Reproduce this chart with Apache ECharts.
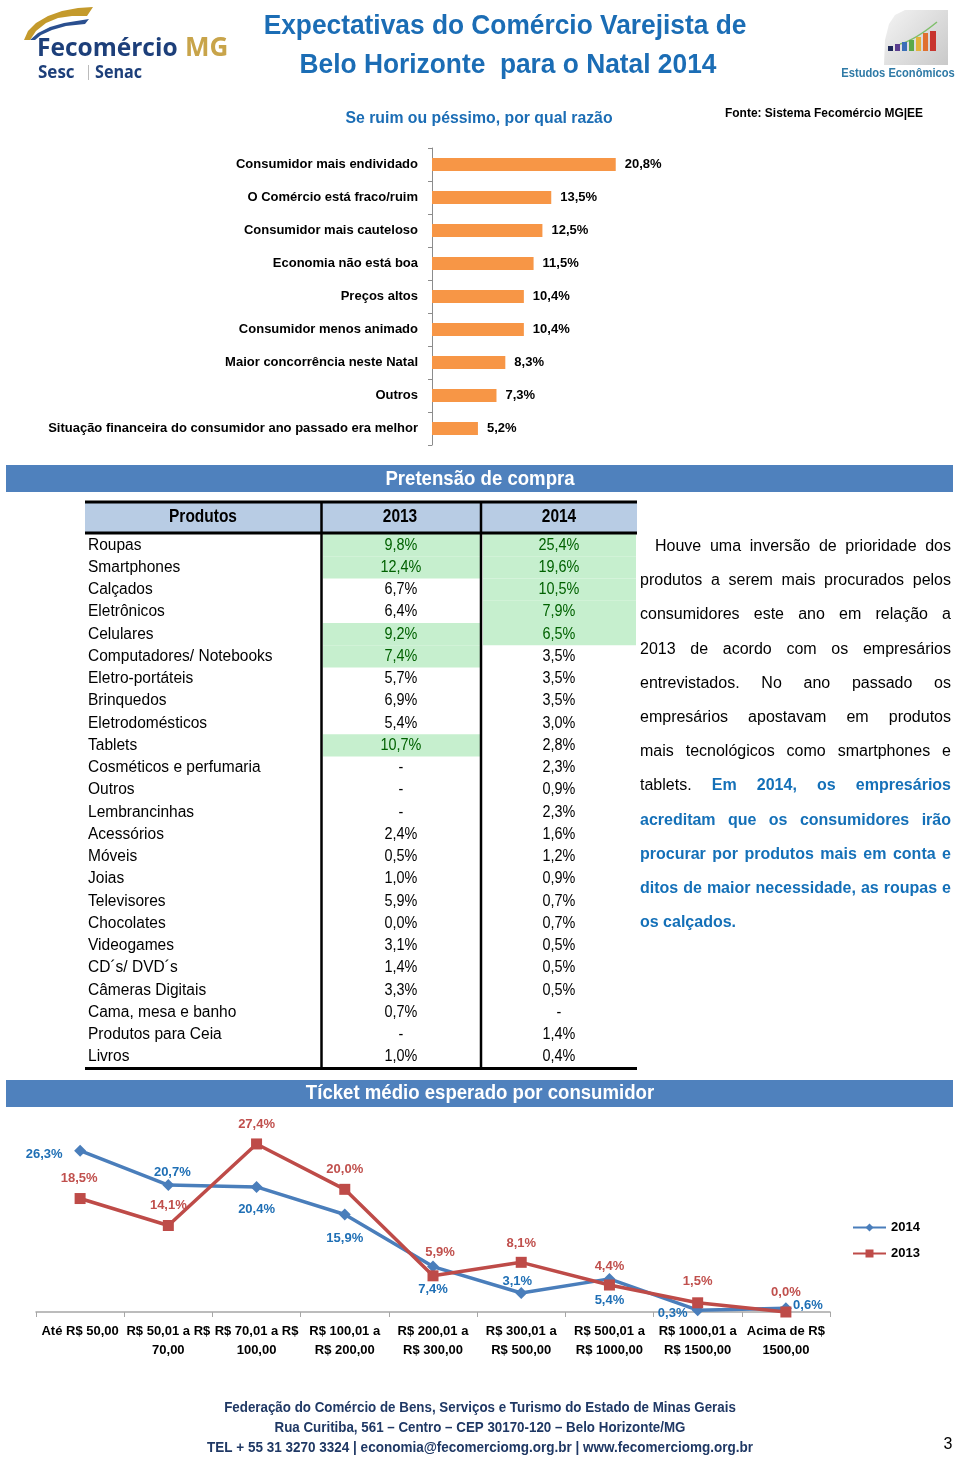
<!DOCTYPE html>
<html>
<head>
<meta charset="utf-8">
<script src="https://cdn.jsdelivr.net/npm/echarts@6/dist/echarts.min.js"></script>
<style>
  html,body{margin:0;padding:0;background:#fff;}
  #wrap{position:relative;width:960px;height:1457px;overflow:hidden;}
  #chart{position:absolute;left:0;top:0;width:960px;height:1457px;}
  #para{position:absolute;left:640px;top:529px;width:311px;font-family:'Liberation Sans',Arial,sans-serif;font-size:16px;color:#000;}
  #para div{height:34.2px;line-height:34px;text-align:justify;text-align-last:justify;white-space:nowrap;}
  #para .b{color:#1470b8;font-weight:bold;}
  #para .last{text-align-last:left;}
</style>
</head>
<body>
<div id="wrap">
<div id="chart"></div>
<div id="para">
  <div style="padding-left:15px">Houve uma inversão de prioridade dos</div>
  <div>produtos a serem mais procurados pelos</div>
  <div>consumidores este ano em relação a</div>
  <div>2013 de acordo com os empresários</div>
  <div>entrevistados. No ano passado os</div>
  <div>empresários apostavam em produtos</div>
  <div>mais tecnológicos como smartphones e</div>
  <div>tablets. <span class="b">Em 2014, os empresários</span></div>
  <div class="b">acreditam que os consumidores irão</div>
  <div class="b">procurar por produtos mais em conta e</div>
  <div class="b">ditos de maior necessidade, as roupas e</div>
  <div class="b last">os calçados.</div>
</div>
</div>
<script>
// ---------- DATA ----------
const reasons = ['Consumidor mais endividado','O Comércio está fraco/ruim','Consumidor mais cauteloso','Economia não está boa','Preços altos','Consumidor menos animado','Maior concorrência neste Natal','Outros','Situação financeira do consumidor ano passado era melhor'];
const reasonValues = [20.8, 13.5, 12.5, 11.5, 10.4, 10.4, 8.3, 7.3, 5.2];

const tableHeader = ['Produtos', '2013', '2014'];
const products = ['Roupas','Smartphones','Calçados','Eletrônicos','Celulares','Computadores/ Notebooks','Eletro-portáteis','Brinquedos','Eletrodomésticos','Tablets','Cosméticos e perfumaria','Outros','Lembrancinhas','Acessórios','Móveis','Joias','Televisores','Chocolates','Videogames','CD´s/ DVD´s','Câmeras Digitais','Cama, mesa e banho','Produtos para Ceia','Livros'];
const share2013 = [9.8, 12.4, 6.7, 6.4, 9.2, 7.4, 5.7, 6.9, 5.4, 10.7, null, null, null, 2.4, 0.5, 1.0, 5.9, 0.0, 3.1, 1.4, 3.3, 0.7, null, 1.0];
const share2014 = [25.4, 19.6, 10.5, 7.9, 6.5, 3.5, 3.5, 3.5, 3.0, 2.8, 2.3, 0.9, 2.3, 1.6, 1.2, 0.9, 0.7, 0.7, 0.5, 0.5, 0.5, null, 1.4, 0.4];

const ticketCats = ['Até R$ 50,00', 'R$ 50,01 a R$\n70,00', 'R$ 70,01 a R$\n100,00', 'R$ 100,01 a\nR$ 200,00', 'R$ 200,01 a\nR$ 300,00', 'R$ 300,01 a\nR$ 500,00', 'R$ 500,01 a\nR$ 1000,00', 'R$ 1000,01 a\nR$ 1500,00', 'Acima de R$\n1500,00'];
const ticket2014 = [26.3, 20.7, 20.4, 15.9, 7.4, 3.1, 5.4, 0.3, 0.6];
const ticket2013 = [18.5, 14.1, 27.4, 20.0, 5.9, 8.1, 4.4, 1.5, 0.0];

// ---------- LAYOUT / STYLE ----------
const FONT = "'Liberation Sans',Arial,sans-serif";
const LOGO_FONT = "'Open Sans','DejaVu Sans',sans-serif";
const BLUE_T = '#1b6db5';
const fmt = v => (v === null || v === undefined) ? '-' : v.toFixed(1).replace('.', ',') + '%';
const labelOff2014 = [[-36,4],[4,-13],[0,23],[0,24],[0,23],[-4,-12],[0,22],[-25,3],[22,-3]];
const labelOff2013 = [[-1,-20],[0,-20],[0,-20],[0,-20],[7,-23],[0,-19],[0,-19],[0,-21],[0,-20]];
const COL_EDGES = [0, 236, 396, 552];

function topIdx(arr, n){
  return arr.map((v,i)=>[v===null?-1:v,i]).sort((a,b)=>b[0]-a[0]).slice(0,n).map(d=>d[1]);
}
const hl2013 = topIdx(share2013, 5), hl2014 = topIdx(share2014, 5);
const tableData = [];
products.forEach((p, i) => {
  tableData.push([i, 0, 0]);
  tableData.push([i, 1, hl2013.includes(i) ? 1 : 0]);
  tableData.push([i, 2, hl2014.includes(i) ? 1 : 0]);
});
function cellText(row, col){
  if (col === 0) return products[row];
  return fmt(col === 1 ? share2013[row] : share2014[row]);
}

const chart = echarts.init(document.getElementById('chart'), null, {renderer:'canvas'});

const txt = (text, x, y, opt, sx) => ({type:'text', x:x, y:y, scaleX: sx || 1, z:50,
  style:Object.assign({text:text, fontFamily:FONT, fontSize:14, fontWeight:'bold', fill:'#000', align:'center', verticalAlign:'middle'}, opt||{})});
const line = (x1,y1,x2,y2,w) => ({type:'line', shape:{x1,y1,x2,y2}, style:{stroke:'#000', lineWidth:w}, z:100});
const poly = (pts, fill) => ({type:'polygon', shape:{points:pts}, style:{fill:fill}});

const graphics = [
  // left logo
  poly([[24,40],[28,31],[36,23],[48,16],[62,11],[78,8],[93,7],[87,16],[72,16],[58,18],[46,23],[36,31],[30,40]], '#c49a2c'),
  poly([[30,40],[38,33],[50,27],[64,23],[89,19],[85,24],[66,26],[52,30],[41,35],[35,40]], '#2a4f8f'),
  txt('Fecomércio', 37, 49, {fontFamily:LOGO_FONT, fontSize:25, fill:'#1d3f7a', align:'left'}, 0.98),
  txt('MG', 185, 49, {fontFamily:LOGO_FONT, fontSize:26, fill:'#c8a44a', align:'left'}),
  txt('Sesc', 38, 73, {fontFamily:LOGO_FONT, fontSize:17, fill:'#1d3f7a', align:'left'}),
  {type:'rect', shape:{x:88, y:65, width:1, height:15}, style:{fill:'#bbb'}},
  txt('Senac', 95, 73, {fontFamily:LOGO_FONT, fontSize:17, fill:'#1d3f7a', align:'left'}, 0.95),
  // right logo
  {type:'polygon', shape:{points:[[948,10],[905,10],[895,15],[889,24],[885,40],[884,65],[948,65]]},
   style:{fill:{type:'linear', x:0, y:0, x2:1, y2:1, colorStops:[{offset:0,color:'#f4f4f4'},{offset:1,color:'#c9c9c9'}]}}},
  {type:'bezierCurve', shape:{x1:900, y1:44, x2:937, y2:22, cpx1:915, cpy1:40}, style:{stroke:'#7fbf6a', lineWidth:1.5, fill:null}},
  {type:'rect', shape:{x:888,y:46,width:5,height:5}, style:{fill:'#1f2a5a'}},
  {type:'rect', shape:{x:895,y:44,width:5,height:7}, style:{fill:'#5b3e8f'}},
  {type:'rect', shape:{x:902,y:42,width:5,height:9}, style:{fill:'#3a6fb8'}},
  {type:'rect', shape:{x:909,y:40,width:5,height:11}, style:{fill:'#5aa94a'}},
  {type:'rect', shape:{x:916,y:37,width:5,height:14}, style:{fill:'#e3b23c'}},
  {type:'rect', shape:{x:923,y:33,width:5,height:18}, style:{fill:'#e0702e'}},
  {type:'rect', shape:{x:930,y:31,width:6,height:20}, style:{fill:'#c8352f'}},
  txt('Estudos Econômicos', 898, 74, {fontSize:12, fill:'#2f7aa6'}, 0.93),
  // titles
  txt('Expectativas do Comércio Varejista de', 505, 26, {fontSize:28, fill:BLUE_T}, 0.94),
  txt('Belo Horizonte  para o Natal 2014', 508, 65, {fontSize:28, fill:BLUE_T}, 0.94),
  txt('Se ruim ou péssimo, por qual razão', 479, 118, {fontSize:17, fill:BLUE_T}, 0.93),
  txt('Fonte: Sistema Fecomércio MG|EE', 725, 113, {fontSize:13, align:'left'}, 0.92),
  // banners
  {type:'rect', shape:{x:6, y:465, width:947, height:27}, style:{fill:'#4f81bd'}},
  txt('Pretensão de compra', 480, 479, {fontSize:20, fill:'#fff'}, 0.93),
  {type:'rect', shape:{x:6, y:1080, width:947, height:27}, style:{fill:'#4f81bd'}},
  txt('Tícket médio esperado por consumidor', 480, 1093, {fontSize:20, fill:'#fff'}, 0.93),
  // table header
  {type:'rect', shape:{x:85, y:502, width:552, height:31}, style:{fill:'#b8cce4'}},
  txt(tableHeader[0], 203, 517, {fontSize:18}, 0.86),
  txt(tableHeader[1], 400, 517, {fontSize:18}, 0.86),
  txt(tableHeader[2], 559, 517, {fontSize:18}, 0.86),
  line(85, 502, 637, 502, 3),
  line(85, 533, 637, 533, 3),
  line(85, 1068.5, 637, 1068.5, 3),
  line(321.5, 502, 321.5, 1068, 2.5),
  line(481, 502, 481, 1068, 2.5),
  // footer
  txt('Federação do Comércio de Bens, Serviços e Turismo do Estado de Minas Gerais', 480, 1408, {fontSize:15, fill:'#1f3864'}, 0.89),
  txt('Rua Curitiba, 561 – Centro – CEP 30170-120 – Belo Horizonte/MG', 480, 1428, {fontSize:15, fill:'#1f3864'}, 0.89),
  txt('TEL + 55 31 3270 3324 | economia@fecomerciomg.org.br | www.fecomerciomg.org.br', 480, 1448, {fontSize:15, fill:'#1f3864'}, 0.9),
  txt('3', 948, 1445, {fontSize:16, fontWeight:'normal'})
];

const lbl = (off, color) => ({show:true, position:'inside', offset:off, color:color, fontFamily:FONT, fontSize:13, fontWeight:'bold', formatter: p => fmt(p.value)});

const option = {
  backgroundColor:'#fff',
  animation:false,
  textStyle:{fontFamily:FONT},
  grid:[
    {left:432, top:148, width:265, height:297},
    {left:36, top:1128, width:794, height:184},
    {left:85, top:534, width:552, height:534}
  ],
  xAxis:[
    {gridIndex:0, type:'value', min:0, max:30, show:false},
    {gridIndex:1, type:'category', data:ticketCats, boundaryGap:true,
     axisLine:{lineStyle:{color:'#a6a6a6', width:1.5}},
     axisTick:{show:true, length:5, lineStyle:{color:'#a6a6a6'}},
     axisLabel:{interval:0, color:'#000', fontFamily:FONT, fontSize:13, fontWeight:'bold', lineHeight:19, margin:10}},
    {gridIndex:2, type:'value', min:0, max:552, show:false}
  ],
  yAxis:[
    {gridIndex:0, type:'category', data:reasons, inverse:true,
     axisLine:{lineStyle:{color:'#8c8c8c', width:1}},
     axisTick:{show:true, length:4, lineStyle:{color:'#8c8c8c'}},
     axisLabel:{color:'#000', fontFamily:FONT, fontSize:13, fontWeight:'bold', margin:14}},
    {gridIndex:1, type:'value', min:0, max:30, show:false},
    {gridIndex:2, type:'category', data:products, inverse:true, show:false}
  ],
  legend:{orient:'vertical', left:847, top:1216, itemWidth:33, itemHeight:10, itemGap:13,
    data:['2014','2013'], textStyle:{fontFamily:FONT, fontSize:13, fontWeight:'bold', color:'#000'}},
  graphic: graphics,
  series:[
    {type:'bar', xAxisIndex:0, yAxisIndex:0, data:reasonValues, barWidth:13,
     itemStyle:{color:'#f79646'},
     label:{show:true, position:'right', distance:9, color:'#000', fontFamily:FONT, fontSize:13, fontWeight:'bold', formatter:p=>fmt(p.value)}},
    {name:'2014', type:'line', xAxisIndex:1, yAxisIndex:1,
     data: ticket2014.map((v,i)=>({value:v, label:lbl(labelOff2014[i], '#1f6fb5')})),
     symbol:'diamond', symbolSize:12, lineStyle:{width:3.5, color:'#4a7ebb'}, itemStyle:{color:'#4a7ebb'}, z:3},
    {name:'2013', type:'line', xAxisIndex:1, yAxisIndex:1,
     data: ticket2013.map((v,i)=>({value:v, label:lbl(labelOff2013[i], '#c0504d')})),
     symbol:'rect', symbolSize:11, lineStyle:{width:3.5, color:'#be4b48'}, itemStyle:{color:'#be4b48'}, z:4},
    {type:'custom', xAxisIndex:2, yAxisIndex:2, data:tableData, z:2,
     renderItem:function(params, api){
       const row = api.value(0), col = api.value(1), hl = api.value(2);
       const a = api.coord([COL_EDGES[col], row]);
       const b = api.coord([COL_EDGES[col+1], row]);
       const h = api.size([0,1])[1];
       const children = [];
       if (hl) children.push({type:'rect', shape:{x:a[0]+2, y:a[1]-h/2, width:b[0]-a[0]-3, height:h}, style:{fill:'#c6efce'}});
       children.push({type:'text', x: col===0 ? a[0]+3 : (a[0]+b[0])/2, y:a[1], scaleX: col===0 ? 0.97 : 0.9,
         style:{text:cellText(row,col), align: col===0 ? 'left':'center', verticalAlign:'middle', fontFamily:FONT, fontSize:16,
         fill: hl ? '#006100' : '#000'}});
       return {type:'group', children:children};
     }}
  ]
};
chart.setOption(option);
</script>
</body>
</html>
